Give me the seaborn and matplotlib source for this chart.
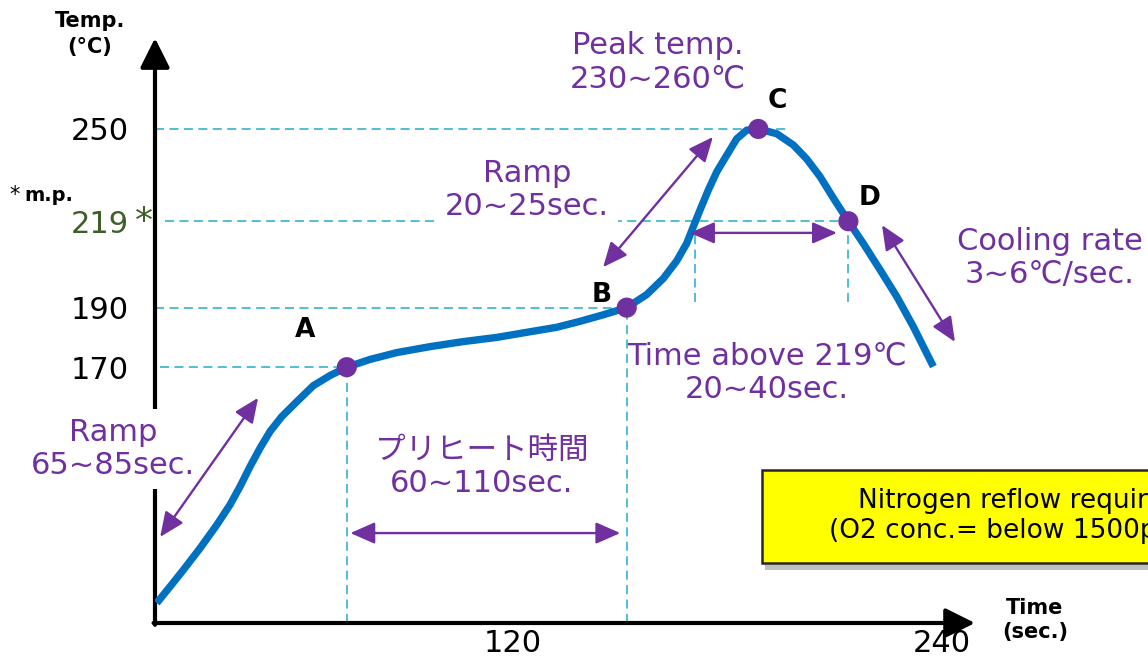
import numpy as np
import pandas as pd
import matplotlib.pyplot as plt
import matplotlib.patches as mpatches
import seaborn as sns

# reflow profile: time (sec.) / temperature (degC)
time_s = [20.34, 24.06, 27.78, 32.45, 37.12, 40.84, 43.64, 46.43, 49.23, 52.03,
          55.30, 59.50, 64.14, 68.81, 73.50, 79.99, 87.47, 96.78, 106.10, 115.44,
          124.76, 132.22, 138.74, 145.26, 151.80, 157.40, 162.04, 165.79, 168.59, 170.43,
          172.31, 174.63, 176.98, 179.78, 182.57, 185.37, 188.60, 193.76, 198.41, 202.15,
          205.87, 209.59, 213.79, 217.99, 222.66, 227.33, 231.97, 237.57]
temp_c = [90.8, 96.3, 101.9, 109.2, 117.0, 123.8, 129.9, 136.6, 142.8, 148.4,
          153.4, 158.4, 163.8, 167.2, 170.0, 172.6, 174.9, 176.9, 178.6, 180.0,
          181.9, 183.4, 185.4, 187.6, 190.0, 194.4, 199.8, 205.7, 211.6, 217.2,
          222.8, 229.5, 235.6, 241.2, 246.7, 249.6, 250.0, 248.4, 244.6, 239.9,
          234.0, 226.8, 219.0, 211.5, 202.7, 193.7, 183.6, 170.2]

# key points A-D
pt_names = ['A', 'B', 'C', 'D']
pt_time = [73.5, 151.8, 188.6, 213.8]
pt_temp = [170, 190, 250, 219]
t_above = 171.0          # where the curve passes 219 on the way up

y_ticks = [170, 190, 219, 250]
y_labels = ['170', '190', '219', '250']
x_ticks = [120, 240]
x_labels = ['120', '240']

# double arrows (t0, T0, t1, T1)
spans = [(21.3, 113.0, 48.7, 159.7),
         (74.5, 114.3, 150.0, 114.3),
         (145.2, 203.6, 175.9, 247.3),
         (169.5, 215.1, 210.6, 215.1),
         (223.2, 217.7, 243.6, 178.5)]

purple = '#7030A0'
blue = '#0070C0'
cyan = '#45B8D4'
green = '#3E5F28'

sns.set_theme(style='white')
plt.rcParams['font.family'] = ['DejaVu Sans', 'Noto Sans CJK JP']
plt.rcParams['text.color'] = 'black'

W, H = 1148, 668
fig = plt.figure(figsize=(W / 100, H / 100), dpi=100)
ax = fig.add_axes([155 / W, 45 / H, 993 / W, 623 / H])
x0, y0 = 19.86, 84.1
ax.set_xlim(x0, 297.6)
ax.set_ylim(y0, 293.3)
for s in ax.spines.values():
    s.set_visible(False)


def px(x, y):
    # pixel position -> figure fraction
    return x / W, 1 - y / H


# axes with arrow heads
axis_arrow = dict(arrowstyle='-|>,head_length=0.6,head_width=0.3', lw=3,
                  color='black', mutation_scale=30, shrinkA=0, shrinkB=0)
ax.annotate('', xy=(x0, 280.5), xytext=(x0, y0 - 0.6), arrowprops=axis_arrow,
            annotation_clip=False, zorder=3)
ax.annotate('', xy=(249.2, y0), xytext=(x0 - 0.4, y0), arrowprops=axis_arrow,
            annotation_clip=False, zorder=3)

# dashed guides
guide = dict(color=cyan, linestyle=(0, (5, 3)), linewidth=1.3, zorder=2)
ax.hlines(250, x0, 197.5, **guide)
ax.hlines(219, 22.7, pt_time[3], **guide)
ax.hlines(190, x0, pt_time[1], **guide)
ax.hlines(170, 21.3, pt_time[0], **guide)
ax.vlines(pt_time[0], y0, 170, **guide)
ax.vlines(pt_time[1], y0, 190, **guide)
ax.vlines([t_above, pt_time[3]], 192, 219, **guide)

# profile curve and points
profile = pd.DataFrame({'time': time_s, 'temp': temp_c})
sns.lineplot(data=profile, x='time', y='temp', sort=False, estimator=None,
             color=blue, linewidth=5.3, solid_capstyle='butt',
             solid_joinstyle='round', ax=ax, zorder=5)
pts = pd.DataFrame({'name': pt_names, 'time': pt_time, 'temp': pt_temp})
sns.scatterplot(data=pts, x='time', y='temp', color=purple, s=210,
                edgecolor='none', ax=ax, zorder=7)
label_off = [(-30, 27), (-18, 9), (14, 20), (15, 17)]
for name, t, T, off in zip(pt_names, pt_time, pt_temp, label_off):
    ax.annotate(name, (t, T), xytext=off, textcoords='offset points',
                ha='center', va='center', fontsize=19, fontweight='bold',
                color='black', zorder=8)

# span arrows
for t0, T0, t1, T1 in spans:
    ax.annotate('', xy=(t1, T1), xytext=(t0, T0),
                arrowprops=dict(arrowstyle='<|-|>,head_length=0.5,head_width=0.22',
                                color=purple, lw=1.7, mutation_scale=30,
                                shrinkA=0, shrinkB=0), zorder=6)

# ticks
ax.set(xlabel='', ylabel='')
ax.set_yticks(y_ticks, labels=y_labels)
ax.set_xticks(x_ticks, labels=x_labels)
ax.tick_params(axis='both', length=0, labelsize=22, labelcolor='black')
ax.tick_params(axis='y', pad=19)
ax.tick_params(axis='x', pad=4)
for lab in ax.get_yticklabels():
    if lab.get_text() == '219':
        lab.set_color(green)
ax.text(*px(135, 232), '*', transform=fig.transFigure, fontsize=26,
        color=green, ha='left', va='baseline')
ax.text(*px(9, 201), '*', transform=fig.transFigure, fontsize=15,
        color='black', ha='left', va='baseline')
ax.text(*px(24, 201), 'm.p.', transform=fig.transFigure, fontsize=14,
        fontweight='bold', color='black', ha='left', va='baseline')

# axis titles
ax.text(*px(90, 34), 'Temp.\n(°C)', transform=fig.transFigure, fontsize=15,
        fontweight='bold', ha='center', va='center', linespacing=1.35)
ax.text(*px(1035, 620), 'Time\n(sec.)', transform=fig.transFigure, fontsize=15,
        fontweight='bold', ha='center', va='center')

# notes
white_box = dict(boxstyle='square,pad=0.3', fc='white', ec='none')
notes = [('Peak temp.\n230~260℃', 658, 62, None),
         ('Ramp\n20~25sec.', 527, 190, white_box),
         ('Time above 219℃\n20~40sec.', 767, 373, None),
         ('Cooling rate\n3~6℃/sec.', 1050, 258, None),
         ('Ramp\n65~85sec.', 113, 449, white_box),
         ('プリヒート時間\n60~110sec.', 482, 467, None)]
for txt, x, y, box in notes:
    ax.text(*px(x, y), txt, transform=fig.transFigure, fontsize=22,
            color=purple, ha='center', va='center', bbox=box, zorder=4)

# yellow note box with shadow (runs past the right edge, as in the source)
shadow = mpatches.Rectangle(px(765, 570), 400 / W, 93 / H, transform=fig.transFigure,
                            fc='#8c8c8c', ec='none', alpha=0.55, zorder=8)
note_box = mpatches.Rectangle(px(762, 563), 400 / W, 93 / H, transform=fig.transFigure,
                              fc='#FFFF00', ec='#262626', lw=1.8, zorder=9)
fig.patches.extend([shadow, note_box])
fig.text(*px(1019, 516), 'Nitrogen reflow required\n(O2 conc.= below 1500ppm)',
         fontsize=19, color='black', ha='center', va='center', zorder=10)

fig.savefig('out.png', dpi=100)
